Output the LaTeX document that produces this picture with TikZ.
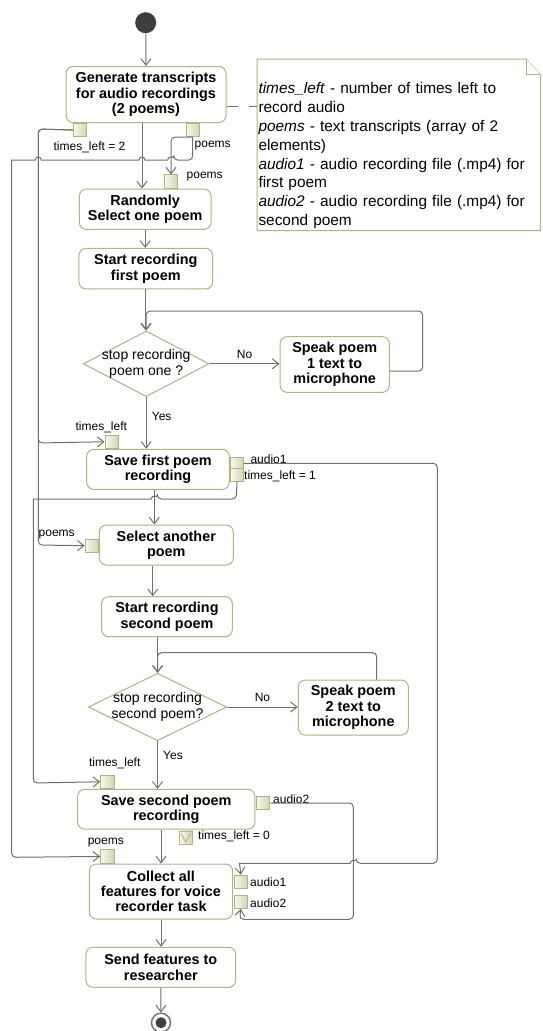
\documentclass[tikz,border=0pt]{standalone}
\usepackage{fontspec}
\setmainfont{Liberation Sans}
\usepackage{tikz}
\usetikzlibrary{arrows.meta,positioning,shapes.geometric}

\definecolor{boxline}{RGB}{178,178,130}
\definecolor{flowgray}{RGB}{112,112,112}
\definecolor{pinlight}{RGB}{248,248,236}
\definecolor{pindark}{RGB}{212,212,178}
\definecolor{dotfill}{RGB}{62,62,62}

\newcommand{\actfont}{\fontsize{14.4}{15.3}\selectfont\bfseries}
\newcommand{\decfont}{\fontsize{14}{15.4}\selectfont}
\newcommand{\lblfont}{\fontsize{12}{14}\selectfont}
\newcommand{\notefont}{\fontsize{15.4}{18.8}\selectfont}

\tikzset{
  action/.style={draw=boxline, line width=1pt, fill=white, rounded corners=7pt,
    align=center, inner sep=0pt, font=\actfont},
  decision/.style={diamond, draw=boxline, line width=1pt, fill=white, inner sep=0pt},
  dectext/.style={font=\decfont, align=center, inner sep=0pt},
  objpin/.style={draw=boxline, line width=0.8pt, left color=pinlight, right color=pindark,
    minimum size=13.3pt, inner sep=0pt},
  initial/.style={circle, fill=dotfill, minimum size=21pt, inner sep=0pt},
  final/.style={circle, draw=flowgray, line width=1.4pt, fill=white, minimum size=19pt,
    inner sep=0pt, path picture={\fill[dotfill] (path picture bounding box.center) circle (5.5pt);}},
  flow/.style={draw=flowgray, line width=1pt, rounded corners=4pt,
    -{Straight Barb[length=6.5pt,width=10pt]}},
  lbl/.style={font=\lblfont, inner sep=0pt},
  notefrm/.style={draw=boxline, line width=1pt, fill=white},
  notetext/.style={font=\notefont, align=left, inner sep=0pt, text width=280pt},
  anchorline/.style={draw=flowgray, line width=1pt, dash pattern=on 11pt off 11pt}
}

\begin{document}
\begin{tikzpicture}[x=1pt, y=-1pt]
  \useasboundingbox (0,0) rectangle (542,1031);

  % activity nodes
  \node[initial] (start) at (145.7,22.7) {};
  \node[action, minimum width=160pt, minimum height=56pt] (gen) at (146,94.5)
    {Generate transcripts\\for audio recordings\\(2 poems)};
  \node[action, minimum width=131.7pt, minimum height=40.3pt] (rand) at (145.2,209.2)
    {Randomly\\Select one poem};
  \node[action, minimum width=133.7pt, minimum height=40.5pt] (rec1) at (145.8,268.7)
    {Start recording\\first poem};
  \node[decision, minimum width=125.7pt, minimum height=65.7pt,
    label={[dectext]center:stop recording\\poem one ?}] (dec1) at (146.2,363.8) {};
  \node[action, minimum width=109.3pt, minimum height=55.6pt] (speak1) at (334.7,364.5)
    {Speak poem\\1 text to\\microphone};
  \node[action, minimum width=142.6pt, minimum height=40pt] (save1) at (158,469.3)
    {Save first poem\\recording};
  \node[action, minimum width=134pt, minimum height=40pt] (sel) at (166.3,545)
    {Select another\\poem};
  \node[action, minimum width=130.6pt, minimum height=40pt] (rec2) at (167,616.7)
    {Start recording\\second poem};
  \node[decision, minimum width=138.4pt, minimum height=67.4pt,
    label={[dectext]center:stop recording\\second poem?}] (dec2) at (157.5,707) {};
  \node[action, minimum width=110pt, minimum height=55pt] (speak2) at (353.3,707.5)
    {Speak poem\\2 text to\\microphone};
  \node[action, minimum width=177.3pt, minimum height=39.7pt] (save2) at (166.3,809.2)
    {Save second poem\\recording};
  \node[action, minimum width=143.4pt, minimum height=55pt] (collect) at (161,891.5)
    {Collect all\\features for voice\\recorder task};
  \node[action, minimum width=149.7pt, minimum height=40pt] (send) at (160.8,967.3)
    {Send features to\\researcher};
  \node[final] (stop) at (161,1022.7) {};

  % pins
  \node[objpin, below=0pt of gen.south, xshift=-66pt] (pin_tl2) {};
  \node[objpin, below=0pt of gen.south, xshift=46.7pt] (pin_po) {};
  \node[objpin, above=0pt of rand.north, xshift=25.8pt] (pin_rpo) {};
  \node[objpin, above=0pt of save1.north, xshift=-46.3pt] (pin_s1in) {};
  \node[objpin, minimum size=12.5pt, right=0.6pt of save1.east, yshift=6pt] (pin_a1) {};
  \node[objpin, minimum size=12.5pt, right=0.6pt of save1.east, yshift=-5.7pt] (pin_tl1) {};
  \node[objpin, left=0pt of sel.west, yshift=-0.7pt] (pin_selpo) {};
  \node[objpin, above=0pt of save2.north, xshift=-59pt] (pin_s2in) {};
  \node[objpin, right=0.7pt of save2.east, yshift=6.2pt] (pin_a2) {};
  \node[objpin, below=1pt of save2.south, xshift=19.4pt] (pin_tl0) {};
  \node[objpin, above=0pt of collect.north, xshift=-53.7pt] (pin_cpo) {};
  \node[objpin, right=0.6pt of collect.east, yshift=9.8pt] (pin_ca1) {};
  \node[objpin, right=0.6pt of collect.east, yshift=-10.2pt] (pin_ca2) {};
  \draw[boxline, line width=0.8pt] ([shift={(-4.5pt,4pt)}]pin_tl0.center)
    -- ([yshift=-4.5pt]pin_tl0.center) -- ([shift={(4.5pt,4pt)}]pin_tl0.center);

  % pin labels
  \node[lbl] (l_tl2) at (89.5,147) {times\_left = 2};
  \node[lbl, anchor=west] (l_po) at (194.5,145.7) {poems};
  \node[lbl, anchor=west] (l_rpo) at (186.5,176.7) {poems};
  \node[lbl] (l_s1in) at (101.3,427.3) {times\_left};
  \node[lbl, anchor=west] (l_a1) at (250.3,459.5) {audio1};
  \node[lbl, anchor=west] (l_tl1) at (244,476.7) {times\_left = 1};
  \node[lbl] (l_selpo) at (56.7,535) {poems};
  \node[lbl] (l_s2in) at (114.7,763) {times\_left};
  \node[lbl, anchor=west] (l_a2) at (273,799) {audio2};
  \node[lbl, anchor=west] (l_tl0) at (198,836.7) {times\_left = 0};
  \node[lbl] (l_cpo) at (105.8,842.7) {poems};
  \node[lbl, anchor=west] (l_ca1) at (250,882.3) {audio1};
  \node[lbl, anchor=west] (l_ca2) at (250,902.7) {audio2};

  % note
  \node[minimum width=282.7pt, minimum height=171pt, inner sep=0pt] (note) at (398.7,144.8) {};
  \draw[notefrm] (note.north west) -- ([xshift=-14pt]note.north east)
    -- ([yshift=-15.5pt]note.north east) -- (note.south east) -- (note.south west) -- cycle;
  \draw[notefrm] ([xshift=-14pt]note.north east) |- ([yshift=-15.5pt]note.north east);
  \node[notetext, anchor=north west] (notebody) at (258.3,82.5)
    {\textit{times\_left} - number of times left to\\record audio\\
     \textit{poems} - text transcripts (array of 2\\elements)\\
     \textit{audio1} - audio recording file (.mp4) for\\first poem\\
     \textit{audio2} - audio recording file (.mp4) for\\second poem};
  \draw[anchorline] ([yshift=-11.5pt]gen.east) -- ([yshift=-11.5pt]gen.east -| note.west);

  % control flow
  \draw[flow] (start) -- (gen.north);
  \draw[flow] ([xshift=-4pt]gen.south) -- ([xshift=-4pt]gen.south |- rand.north);
  \draw[flow] (rand.south) -- (rand.south |- rec1.north);
  \draw[flow] (rec1.south) -- (rec1.south |- dec1.north);
  \draw[flow] (dec1.east) -- node[lbl, above=5pt] (l_no1) {No} (dec1.east -| speak1.west);
  \draw[flow] ([yshift=-6.5pt]speak1.east) -- (422.7,371) -- (422.7,311) -- (146.2,311) -- (dec1.north);
  \draw[flow] (dec1.south) -- (dec1.south |- save1.north);
  \node[lbl] (l_yes1) at (161.7,416) {Yes};
  \draw[flow] ([xshift=-3.7pt]save1.south) -- ([xshift=-3.7pt]save1.south |- sel.north);
  \draw[flow] ([xshift=-13.6pt]sel.south) -- ([xshift=-13.6pt]sel.south |- rec2.north);
  \draw[flow] ([xshift=-9.3pt]rec2.south) -- ([xshift=-9.3pt]rec2.south |- dec2.north);
  \draw[flow] (dec2.east) -- node[lbl, above=5pt] (l_no2) {No} (dec2.east -| speak2.west);
  \draw[flow] ([xshift=23.4pt]speak2.north) -- (376.7,652.7) -- (157.5,652.7) -- (dec2.north);
  \draw[flow] (dec2.south) -- (dec2.south |- save2.north);
  \node[lbl] (l_yes2) at (173,755) {Yes};
  \draw[flow] ([xshift=-5.3pt]save2.south) -- ([xshift=-5.3pt]save2.south |- collect.north);
  \draw[flow] (collect.south) -- (collect.south |- send.north);
  \draw[flow] (send.south) -- (stop.north);

  % object flow
  \draw[flow] (pin_tl2.west) -- (38.3,129) -- (38.3,443) -- (pin_s1in.west);
  \draw[flow] (pin_tl2.west) -- (38.3,129) -- (38.3,545) -- (pin_selpo.west);
  \draw[flow] (pin_po.south) -- (pin_rpo.north |- pin_po.south) -- (pin_rpo.north);
  \draw[flow] (pin_po.south) -- (192.7,160) -- (173.7,160)
    [sharp corners] arc[start angle=0, end angle=180, radius=3pt] -- (145,160)
    arc[start angle=0, end angle=180, radius=3pt] -- (41.3,160)
    arc[start angle=0, end angle=180, radius=3pt] -- (11.7,160)
    [rounded corners=4pt] -- (11.7,857.3) -- (pin_cpo.west);
  \draw[flow] (pin_tl1.south) -- (236.2,499) -- (157.3,499)
    [sharp corners] arc[start angle=0, end angle=180, radius=3pt] -- (33.3,499)
    [rounded corners=4pt] -- (33.3,783) -- (pin_s2in.west);
  \draw[flow] (pin_a1.east) -- (437.3,463.3) -- (437.3,863.3) -- (356.3,863.3)
    [sharp corners] arc[start angle=0, end angle=180, radius=3pt] -- (239.5,863.3)
    [rounded corners=4pt] -- (pin_ca1.north);
  \draw[flow] (pin_a2.east) -- (353.3,803) -- (353.3,919.3) -- (239.5,919.3) -- (pin_ca2.south);
\end{tikzpicture}
\end{document}
